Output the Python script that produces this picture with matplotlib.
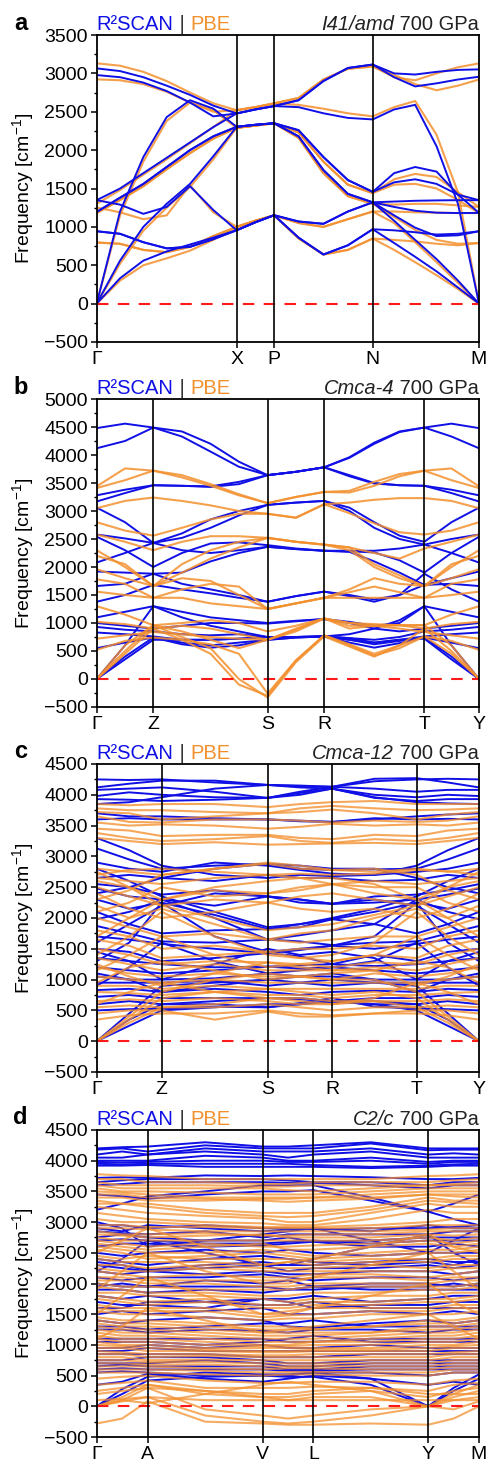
import numpy as np
import matplotlib
matplotlib.use("Agg")
import matplotlib.pyplot as plt
from matplotlib.ticker import MultipleLocator
from matplotlib.offsetbox import TextArea, HPacker, AnchoredOffsetbox

plt.rcParams['font.family'] = ['Liberation Sans', 'DejaVu Sans']
plt.rcParams['mathtext.fontset'] = 'custom'
plt.rcParams['mathtext.rm'] = 'Liberation Sans'
plt.rcParams['mathtext.it'] = 'Liberation Sans:italic'

BLUE = '#1010E6'
ORANGE = '#F3902E'
FS = 14
FS_TITLE = 14.5

# ---------------- panel a : I41/amd ----------------
a_labels = ['Γ', 'X', 'P', 'N', 'M']
a_ticks = [0.0, 0.366, 0.464, 0.722, 1.0]
a_k = [0.0, 0.061, 0.122, 0.183, 0.244, 0.305, 0.366, 0.415, 0.464,
       0.528, 0.593, 0.657, 0.722, 0.778, 0.833, 0.889, 0.945, 1.0]
a_r2scan = [
    [3065, 3030, 2950, 2840, 2720, 2580, 2478, 2530, 2574, 2650, 2900, 3070, 3115, 3000, 2985, 3020, 3045, 3052],
    [2978, 2950, 2880, 2770, 2620, 2440, 2478, 2530, 2574, 2650, 2900, 3070, 3115, 2950, 2830, 2870, 2920, 2956],
    [1348, 1500, 1700, 1900, 2100, 2300, 2478, 2530, 2574, 2560, 2480, 2420, 2400, 2530, 2590, 2050, 1300, 0],
    [0, 1200, 1910, 2430, 2650, 2540, 2304, 2330, 2350, 2260, 1910, 1610, 1456, 1700, 1780, 1720, 1420, 1182],
    [0, 560, 1000, 1300, 1560, 1920, 2304, 2330, 2350, 2260, 1910, 1610, 1456, 1580, 1620, 1560, 1420, 1348],
    [1195, 1380, 1560, 1780, 2000, 2180, 2304, 2330, 2350, 2180, 1740, 1430, 1320, 1330, 1340, 1345, 1348, 1348],
    [1348, 1290, 1170, 1260, 1530, 1220, 956, 1060, 1152, 1070, 1040, 1200, 1320, 1260, 1210, 1185, 1180, 1182],
    [943, 910, 800, 720, 740, 840, 956, 1060, 1152, 1070, 1040, 1200, 1320, 1080, 830, 580, 300, 0],
    [0, 330, 560, 680, 770, 860, 956, 1060, 1152, 860, 640, 760, 969, 790, 610, 420, 210, 0],
    [943, 910, 800, 720, 740, 840, 956, 1060, 1152, 860, 640, 760, 969, 955, 930, 900, 910, 943],
    [1195, 1380, 1560, 1780, 2000, 2180, 2304, 2330, 2350, 2180, 1740, 1430, 1320, 1150, 990, 880, 890, 943],
]
a_pbe = [
    [3131, 3100, 3020, 2900, 2750, 2610, 2520, 2560, 2609, 2680, 2920, 3060, 3090, 2950, 2910, 3000, 3080, 3130],
    [2922, 2910, 2860, 2760, 2620, 2500, 2520, 2560, 2609, 2680, 2920, 3060, 3090, 2980, 2860, 2780, 2840, 2920],
    [1300, 1480, 1680, 1880, 2090, 2300, 2520, 2560, 2609, 2590, 2540, 2480, 2440, 2560, 2640, 2200, 1450, 0],
    [0, 1150, 1850, 2380, 2620, 2520, 2290, 2320, 2350, 2230, 1850, 1550, 1440, 1620, 1690, 1650, 1450, 1260],
    [0, 520, 950, 1250, 1520, 1880, 2290, 2320, 2350, 2230, 1850, 1550, 1440, 1550, 1560, 1500, 1350, 1180],
    [1180, 1350, 1530, 1750, 1960, 2150, 2290, 2320, 2350, 2160, 1700, 1400, 1300, 1290, 1300, 1300, 1280, 1260],
    [1252, 1190, 1100, 1150, 1543, 1190, 1000, 1080, 1150, 1050, 1000, 1100, 1200, 1200, 1190, 1185, 1180, 1180],
    [796, 780, 700, 670, 740, 880, 1000, 1080, 1150, 1050, 1000, 1100, 1200, 1050, 800, 540, 270, 0],
    [0, 300, 500, 590, 690, 830, 1000, 1080, 1150, 850, 640, 700, 848, 700, 540, 370, 190, 0],
    [796, 780, 700, 670, 740, 880, 1000, 1080, 1150, 850, 640, 700, 848, 830, 810, 780, 760, 790],
    [1180, 1350, 1530, 1750, 1960, 2150, 2290, 2320, 2350, 2160, 1700, 1400, 1300, 1130, 960, 830, 780, 790],
]

# ---------------- panel b : Cmca-4 ----------------
b_labels = ['Γ', 'Z', 'S', 'R', 'T', 'Y']
b_ticks = [0.0, 0.148, 0.447, 0.595, 0.857, 1.0]
b_k = [0.0, 0.074, 0.148, 0.223, 0.298, 0.372, 0.447, 0.521, 0.595,
       0.661, 0.726, 0.792, 0.857, 0.928, 1.0]
b_r2scan = [
    [4480, 4560, 4490, 4420, 4200, 3880, 3640, 3700, 3780, 3950, 4200, 4410, 4490, 4560, 4480],
    [4120, 4250, 4490, 4330, 4060, 3790, 3640, 3700, 3780, 3960, 4220, 4420, 4490, 4330, 4120],
    [3280, 3380, 3460, 3450, 3440, 3520, 3640, 3700, 3780, 3640, 3500, 3460, 3450, 3380, 3280],
    [3170, 3320, 3460, 3450, 3430, 3480, 3640, 3700, 3780, 3620, 3490, 3460, 3450, 3320, 3170],
    [3060, 2800, 2430, 2600, 2850, 3000, 3110, 3150, 3180, 3060, 2800, 2560, 2450, 2800, 3060],
    [2580, 2510, 2430, 2520, 2700, 2920, 3110, 3150, 3180, 3000, 2700, 2500, 2400, 2500, 2580],
    [2540, 2300, 2000, 2250, 2420, 2440, 2390, 2330, 2290, 2280, 2260, 2120, 1900, 2250, 2540],
    [2080, 2250, 2430, 2300, 2250, 2300, 2360, 2320, 2290, 2290, 2290, 2330, 2400, 2250, 2080],
    [1920, 1900, 1880, 1900, 2100, 2250, 2360, 2320, 2290, 2270, 2100, 1900, 1680, 1800, 1920],
    [1660, 1700, 1880, 1700, 1600, 1500, 1380, 1480, 1560, 1500, 1420, 1500, 1680, 1700, 1660],
    [1380, 1500, 1680, 1600, 1530, 1450, 1380, 1480, 1560, 1480, 1380, 1500, 1880, 1600, 1380],
    [1100, 1200, 1300, 1200, 1100, 1050, 1000, 1040, 1070, 1020, 950, 1000, 1300, 1200, 1100],
    [1000, 950, 900, 950, 1000, 1000, 990, 1030, 1070, 1000, 900, 850, 900, 950, 1000],
    [930, 880, 850, 800, 780, 800, 750, 750, 760, 730, 700, 750, 850, 880, 930],
    [830, 800, 760, 700, 700, 720, 750, 750, 760, 700, 650, 700, 760, 800, 830],
    [550, 650, 740, 650, 600, 650, 700, 740, 760, 700, 620, 680, 740, 650, 550],
    [0, 400, 740, 620, 560, 600, 700, 740, 760, 650, 560, 640, 740, 400, 0],
    [0, 350, 700, 700, 700, 720, 750, 750, 760, 730, 650, 700, 720, 350, 0],
    [0, 600, 1300, 1100, 950, 850, 750, 750, 760, 800, 900, 1050, 1300, 600, 0],
]
b_pbe = [
    [3440, 3760, 3720, 3600, 3450, 3280, 3140, 3250, 3340, 3330, 3450, 3620, 3720, 3760, 3440],
    [3410, 3550, 3720, 3640, 3480, 3300, 3140, 3250, 3340, 3360, 3520, 3660, 3720, 3550, 3410],
    [3050, 3180, 3240, 3180, 3100, 3000, 2950, 2880, 3120, 3150, 3200, 3230, 3230, 3180, 3050],
    [2800, 2650, 2560, 2700, 2850, 2950, 2950, 2880, 3120, 2960, 2780, 2620, 2580, 2650, 2800],
    [2580, 2450, 2300, 2450, 2550, 2550, 2520, 2450, 2400, 2350, 2250, 2150, 2330, 2450, 2580],
    [2300, 2000, 1660, 2050, 2300, 2450, 2520, 2450, 2400, 2350, 2050, 1850, 1660, 2000, 2300],
    [2200, 2050, 1660, 1900, 2150, 2350, 2520, 2450, 2400, 2300, 2000, 1800, 1660, 2050, 2200],
    [1960, 1800, 1660, 1800, 1750, 1500, 1250, 1350, 1450, 1600, 1800, 1700, 1660, 1800, 1960],
    [1780, 1700, 1450, 1600, 1700, 1650, 1250, 1350, 1450, 1550, 1650, 1550, 1450, 1700, 1780],
    [1560, 1500, 1450, 1450, 1350, 1300, 1250, 1350, 1450, 1450, 1450, 1450, 1450, 1500, 1560],
    [1300, 1150, 960, 1000, 1050, 1000, 850, 950, 1080, 950, 950, 960, 960, 1150, 1300],
    [1020, 980, 900, 950, 900, 800, 700, 900, 1080, 900, 950, 960, 900, 980, 1020],
    [720, 780, 840, 800, 750, 720, 700, 850, 1080, 1000, 950, 900, 840, 780, 720],
    [520, 680, 740, 700, 620, 450, -260, 330, 780, 600, 420, 550, 760, 680, 520],
    [0, 450, 900, 700, 450, -100, -300, 330, 780, 620, 450, 600, 760, 450, 0],
    [0, 500, 960, 750, 550, 0, -330, 300, 760, 580, 400, 600, 900, 500, 0],
    [0, 600, 960, 850, 700, 550, 700, 880, 1080, 1000, 980, 960, 960, 600, 0],
]

# ---------------- panel c : Cmca-12 ----------------
c_labels = ['Γ', 'Z', 'S', 'R', 'T', 'Y']
c_ticks = [0.0, 0.170, 0.447, 0.616, 0.837, 1.0]
c_k = [0.0, 0.085, 0.170, 0.3085, 0.447, 0.5315, 0.616, 0.7265, 0.837, 0.9185, 1.0]
c_r2scan = [
    [4250, 4240, 4250, 4200, 4160, 4150, 4130, 4220, 4250, 4260, 4250],
    [4120, 4180, 4230, 4230, 4160, 4140, 4130, 4260, 4270, 4200, 4120],
    [4080, 4100, 4120, 4050, 3950, 4050, 4130, 4100, 4050, 4080, 4080],
    [3980, 4040, 4000, 3960, 3950, 4000, 4100, 4000, 3960, 4000, 3980],
    [3930, 3920, 3900, 3920, 3950, 4030, 4100, 3950, 3900, 3930, 3930],
    [3850, 3880, 3960, 4100, 4160, 4120, 4100, 3960, 3880, 3860, 3850],
    [3700, 3650, 3650, 3620, 3600, 3580, 3560, 3600, 3650, 3680, 3700],
    [3600, 3620, 3600, 3600, 3600, 3570, 3560, 3620, 3600, 3610, 3600],
    [3130, 2950, 2800, 2850, 2880, 2800, 2780, 2790, 2800, 2950, 3130],
    [2900, 2800, 2750, 2900, 2850, 2780, 2720, 2700, 2750, 2800, 2900],
    [2650, 2700, 2650, 2600, 2700, 2650, 2650, 2600, 2620, 2700, 2650],
    [2550, 2500, 2380, 2450, 2350, 2300, 2230, 2350, 2380, 2450, 2550],
    [2480, 2350, 2300, 2200, 2350, 2250, 2230, 2250, 2300, 2380, 2480],
    [2300, 2150, 2250, 2050, 1820, 1900, 1980, 2100, 2250, 2150, 2300],
    [2100, 1900, 1750, 1800, 1820, 1850, 1980, 1900, 1750, 1900, 2100],
    [1980, 2100, 2300, 2000, 1650, 1720, 1800, 1900, 2300, 2100, 1980],
    [1870, 1750, 1620, 1600, 1650, 1620, 1560, 1600, 1620, 1750, 1870],
    [1700, 1650, 1580, 1500, 1430, 1480, 1550, 1500, 1580, 1650, 1700],
    [1500, 1450, 1300, 1350, 1430, 1380, 1250, 1400, 1300, 1450, 1500],
    [1350, 1300, 1250, 1200, 1210, 1230, 1250, 1220, 1250, 1300, 1350],
    [1200, 1150, 1100, 1150, 1210, 1180, 1200, 1150, 1100, 1150, 1200],
    [1050, 1000, 1000, 1020, 1100, 1050, 1050, 1000, 1000, 1000, 1050],
    [950, 950, 950, 980, 900, 950, 1000, 950, 950, 950, 950],
    [830, 850, 800, 850, 800, 750, 800, 820, 800, 850, 830],
    [720, 750, 700, 700, 700, 680, 650, 700, 700, 750, 720],
    [600, 650, 600, 600, 550, 600, 650, 600, 600, 650, 600],
    [500, 520, 530, 560, 550, 620, 700, 560, 530, 520, 500],
    [0, 350, 600, 650, 700, 700, 650, 650, 600, 350, 0],
    [0, 250, 500, 550, 600, 600, 640, 600, 500, 250, 0],
    [0, 450, 900, 950, 1000, 950, 900, 950, 900, 450, 0],
    [2800, 2600, 2350, 2100, 1850, 1900, 2000, 2150, 2350, 2600, 2800],
    [1600, 1900, 2200, 2400, 2350, 2300, 2230, 2300, 2200, 1900, 1600],
    [1300, 1600, 2250, 1700, 1450, 1500, 1550, 1700, 2250, 1600, 1300],
    [900, 1200, 1600, 1300, 1100, 1150, 1200, 1300, 1600, 1200, 900],
    [1100, 1000, 800, 900, 1000, 1050, 1100, 1000, 800, 1000, 1100],
    [2400, 2500, 2650, 2800, 2880, 2850, 2800, 2800, 2650, 2500, 2400],
    [3300, 3100, 2850, 2700, 2650, 2700, 2680, 2700, 2850, 3100, 3300],
    [1450, 1300, 1000, 1250, 1500, 1400, 1450, 1350, 1000, 1300, 1450],
]
c_pbe = [
    [3850, 3830, 3850, 3850, 3800, 3850, 3880, 3900, 3850, 3850, 3850],
    [3780, 3750, 3750, 3720, 3700, 3780, 3820, 3780, 3750, 3760, 3780],
    [3720, 3700, 3600, 3650, 3700, 3720, 3760, 3700, 3600, 3680, 3720],
    [3650, 3560, 3550, 3600, 3600, 3580, 3550, 3580, 3560, 3580, 3650],
    [3550, 3500, 3520, 3500, 3450, 3480, 3530, 3500, 3520, 3500, 3550],
    [3450, 3420, 3330, 3350, 3350, 3300, 3280, 3350, 3330, 3420, 3450],
    [3380, 3300, 3250, 3280, 3330, 3250, 3220, 3280, 3250, 3300, 3380],
    [3300, 3250, 3200, 3230, 3190, 3200, 3210, 3220, 3200, 3250, 3300],
    [2800, 2750, 2700, 2800, 2880, 2800, 2780, 2750, 2800, 2750, 2800],
    [2700, 2780, 2800, 2750, 2700, 2720, 2700, 2720, 2780, 2760, 2700],
    [2650, 2600, 2550, 2650, 2700, 2650, 2550, 2600, 2550, 2600, 2650],
    [2600, 2500, 2300, 2450, 2400, 2450, 2550, 2400, 2300, 2500, 2600],
    [2500, 2350, 2200, 2300, 2250, 2350, 2400, 2300, 2200, 2350, 2500],
    [2400, 2150, 2000, 2100, 2250, 2150, 2100, 2150, 2000, 2150, 2400],
    [2200, 2000, 2150, 1900, 1650, 1750, 1800, 2000, 2150, 2000, 2200],
    [2000, 1850, 1700, 1750, 1650, 1600, 1650, 1700, 1700, 1850, 2000],
    [1800, 1700, 1500, 1550, 1450, 1500, 1500, 1550, 1500, 1700, 1800],
    [1650, 1550, 1350, 1400, 1450, 1350, 1300, 1400, 1350, 1550, 1650],
    [1500, 1400, 1250, 1300, 1280, 1250, 1200, 1280, 1250, 1400, 1500],
    [1350, 1250, 1150, 1250, 1150, 1150, 1150, 1200, 1150, 1250, 1350],
    [1200, 1100, 1050, 1100, 1050, 1050, 1000, 1100, 1050, 1100, 1200],
    [1050, 1000, 950, 1000, 950, 950, 950, 950, 950, 1000, 1050],
    [900, 900, 850, 900, 850, 850, 850, 850, 850, 900, 900],
    [800, 780, 750, 800, 750, 750, 700, 750, 750, 780, 800],
    [650, 680, 650, 700, 650, 600, 600, 650, 650, 680, 650],
    [550, 580, 550, 550, 600, 550, 500, 550, 550, 580, 550],
    [450, 500, 500, 350, 480, 400, 400, 450, 500, 500, 450],
    [350, 420, 450, 450, 500, 450, 420, 450, 450, 420, 350],
    [0, 300, 550, 600, 700, 700, 650, 650, 550, 300, 0],
    [0, 350, 700, 800, 850, 800, 750, 800, 700, 350, 0],
    [0, 400, 800, 1000, 1100, 1050, 1000, 1000, 800, 400, 0],
    [2750, 2500, 2200, 2000, 1800, 1850, 1900, 2050, 2200, 2500, 2750],
    [1700, 2000, 2300, 2500, 2600, 2650, 2650, 2550, 2300, 2000, 1700],
    [1400, 1700, 2100, 1700, 1400, 1350, 1400, 1600, 2100, 1700, 1400],
    [1150, 1400, 1700, 1400, 1200, 1250, 1300, 1400, 1700, 1400, 1150],
    [950, 1200, 1300, 1150, 1000, 1050, 1100, 1150, 1300, 1200, 950],
    [2300, 2450, 2700, 2800, 2900, 2850, 2780, 2800, 2700, 2450, 2300],
    [600, 800, 950, 800, 700, 650, 600, 700, 950, 800, 600],
    [1250, 1050, 900, 1100, 1280, 1200, 1150, 1150, 900, 1050, 1250],
    [2100, 2250, 2500, 2350, 2400, 2500, 2550, 2500, 2500, 2250, 2100],
]

# ---------------- panel d : C2/c ----------------
d_labels = ['Γ', 'A', 'V', 'L', 'Y', 'M']
d_ticks = [0.0, 0.133, 0.434, 0.567, 0.867, 1.0]
d_k = [0.0, 0.0665, 0.133, 0.2835, 0.434, 0.5005, 0.567, 0.717, 0.867, 0.9335, 1.0]
d_r2scan = [
    [4200, 4220, 4230, 4300, 4230, 4230, 4250, 4300, 4200, 4200, 4200],
    [4180, 4200, 4150, 4250, 4200, 4200, 4200, 4280, 4170, 4180, 4180],
    [4100, 4150, 4100, 4200, 4150, 4150, 4150, 4200, 4100, 4120, 4100],
    [4050, 4050, 4100, 4150, 4100, 4050, 4100, 4150, 4050, 4050, 4050],
    [4000, 4000, 4000, 4080, 4050, 4000, 4000, 4050, 3980, 4000, 4000],
    [3980, 3970, 3980, 4000, 4000, 3980, 3980, 4000, 3950, 3980, 3980],
    [3950, 3940, 3950, 3950, 3950, 3950, 3930, 3900, 3920, 3940, 3950],
    [3920, 3920, 3930, 3900, 3900, 3900, 3900, 3880, 3900, 3920, 3920],
    [3720, 3730, 3720, 3760, 3750, 3760, 3750, 3730, 3700, 3700, 3720],
    [3650, 3680, 3700, 3700, 3700, 3680, 3650, 3650, 3600, 3650, 3650],
    [3600, 3620, 3650, 3650, 3650, 3640, 3640, 3600, 3550, 3600, 3600],
    [3200, 3300, 3420, 3500, 3600, 3600, 3600, 3400, 3170, 3300, 3450],
    [3450, 3420, 3380, 3450, 3500, 3500, 3520, 3350, 3170, 3050, 2950],
    [2950, 2950, 2900, 2950, 2900, 2900, 2880, 2900, 2900, 2920, 2950],
    [2850, 2820, 2800, 2850, 2750, 2800, 2800, 2800, 2800, 2850, 2850],
    [2700, 2720, 2700, 2650, 2650, 2680, 2700, 2650, 2700, 2700, 2700],
    [2600, 2650, 2650, 2600, 2620, 2650, 2680, 2600, 2600, 2650, 2600],
    [2500, 2450, 2500, 2550, 2500, 2550, 2500, 2450, 2500, 2500, 2500],
    [2350, 2300, 2220, 2300, 2350, 2300, 2300, 2350, 2400, 2350, 2350],
    [2200, 2150, 2200, 2150, 2200, 2150, 2150, 2200, 2200, 2150, 2200],
    [2000, 1950, 1950, 2050, 2000, 2050, 1950, 2000, 2000, 1950, 2000],
    [1900, 1900, 1850, 1900, 1850, 1900, 1950, 1900, 1900, 1900, 1900],
    [1800, 1750, 1800, 1700, 1750, 1750, 1800, 1700, 1750, 1800, 1800],
    [1700, 1650, 1650, 1600, 1750, 1700, 1600, 1650, 1650, 1700, 1700],
    [1500, 1550, 1500, 1550, 1600, 1500, 1500, 1550, 1500, 1550, 1500],
    [1400, 1350, 1400, 1450, 1400, 1300, 1280, 1350, 1400, 1350, 1400],
    [1250, 1250, 1200, 1250, 1230, 1200, 1250, 1250, 1200, 1250, 1250],
    [1100, 1100, 1100, 1100, 1100, 1050, 1050, 1100, 1100, 1100, 1100],
    [950, 950, 1000, 950, 1000, 950, 950, 1000, 950, 950, 950],
    [850, 850, 850, 850, 800, 800, 800, 850, 850, 850, 850],
    [700, 700, 700, 750, 700, 650, 650, 700, 700, 700, 700],
    [650, 680, 650, 650, 650, 600, 600, 650, 650, 650, 650],
    [550, 570, 550, 500, 500, 500, 550, 550, 500, 550, 550],
    [350, 400, 530, 450, 400, 450, 500, 450, 350, 400, 350],
    [0, 280, 480, 550, 520, 520, 550, 450, 0, 300, 520],
    [0, 200, 420, 480, 500, 480, 480, 350, 0, 250, 450],
    [2900, 2850, 2950, 2900, 2850, 2880, 2900, 2850, 2950, 2900, 2900],
    [2750, 2800, 2750, 2700, 2700, 2750, 2680, 2700, 2750, 2750, 2750],
    [2400, 2350, 2300, 2400, 2450, 2400, 2350, 2300, 2350, 2300, 2400],
    [2300, 2250, 2200, 2250, 2300, 2200, 2250, 2250, 2300, 2250, 2300],
    [2100, 2050, 2100, 2100, 2150, 2100, 2050, 2100, 2100, 2050, 2100],
    [1950, 2000, 1950, 1950, 1950, 1900, 1900, 1950, 1950, 2000, 1950],
    [1600, 1600, 1700, 1700, 1650, 1650, 1700, 1600, 1600, 1600, 1600],
    [1300, 1300, 1250, 1300, 1350, 1350, 1400, 1300, 1300, 1300, 1300],
    [1050, 1050, 1050, 1000, 1050, 1100, 1150, 1050, 1050, 1050, 1050],
    [900, 900, 950, 900, 900, 900, 900, 900, 900, 900, 900],
    [750, 750, 800, 800, 750, 700, 700, 750, 750, 750, 750],
    [600, 620, 600, 600, 600, 580, 580, 600, 600, 600, 600],
    [3000, 2900, 2600, 2700, 2800, 2850, 2900, 2700, 2500, 2700, 2900],
    [2200, 2400, 2700, 2500, 2300, 2300, 2400, 2600, 2800, 2500, 2300],
]
d_pbe = [
    [3780, 3760, 3750, 3700, 3700, 3700, 3700, 3700, 3750, 3760, 3780],
    [3700, 3700, 3650, 3650, 3620, 3620, 3650, 3650, 3650, 3680, 3700],
    [3600, 3550, 3550, 3550, 3550, 3520, 3500, 3550, 3600, 3600, 3600],
    [3500, 3480, 3450, 3400, 3400, 3400, 3400, 3450, 3500, 3500, 3500],
    [3400, 3400, 3350, 3350, 3380, 3380, 3400, 3400, 3450, 3420, 3400],
    [3300, 3300, 3250, 3150, 3100, 3080, 3100, 3200, 3350, 3320, 3300],
    [3250, 3200, 3150, 3100, 3060, 3000, 3000, 3150, 3300, 3250, 3250],
    [3150, 3100, 3050, 3000, 2980, 2950, 2950, 3050, 3200, 3150, 3150],
    [3050, 3000, 3000, 2950, 2920, 2920, 2920, 2950, 3000, 3050, 3050],
    [2900, 2900, 2880, 2850, 2850, 2850, 2850, 2850, 2880, 2900, 2900],
    [2800, 2780, 2750, 2780, 2800, 2750, 2750, 2750, 2800, 2780, 2800],
    [2700, 2650, 2600, 2650, 2600, 2600, 2620, 2650, 2700, 2650, 2700],
    [2600, 2550, 2500, 2500, 2550, 2500, 2450, 2500, 2550, 2550, 2600],
    [2450, 2400, 2450, 2400, 2400, 2400, 2350, 2400, 2400, 2450, 2450],
    [2300, 2300, 2250, 2300, 2250, 2250, 2250, 2300, 2250, 2300, 2300],
    [2200, 2150, 2100, 2150, 2100, 2100, 2150, 2150, 2100, 2150, 2200],
    [2050, 2050, 2000, 2000, 1950, 1950, 2000, 2000, 2000, 2050, 2050],
    [1950, 1900, 1850, 1850, 1800, 1800, 1850, 1850, 1900, 1900, 1950],
    [1800, 1750, 1700, 1750, 1650, 1650, 1700, 1700, 1750, 1750, 1800],
    [1650, 1600, 1600, 1600, 1500, 1550, 1600, 1600, 1600, 1650, 1650],
    [1550, 1500, 1500, 1450, 1400, 1430, 1430, 1500, 1500, 1500, 1550],
    [1450, 1400, 1400, 1350, 1300, 1300, 1250, 1300, 1400, 1400, 1450],
    [1350, 1300, 1300, 1250, 1200, 1200, 1200, 1200, 1300, 1300, 1350],
    [1250, 1200, 1200, 1150, 1100, 1100, 1100, 1150, 1200, 1200, 1250],
    [1150, 1100, 1100, 1050, 1000, 1000, 1050, 1050, 1100, 1100, 1150],
    [1050, 1000, 1000, 950, 950, 950, 950, 950, 1000, 1000, 1050],
    [950, 950, 900, 900, 880, 880, 900, 900, 900, 950, 950],
    [850, 850, 800, 820, 800, 800, 800, 800, 800, 850, 850],
    [750, 750, 720, 720, 700, 700, 700, 700, 700, 750, 750],
    [650, 650, 650, 620, 600, 620, 620, 600, 600, 650, 650],
    [550, 550, 550, 520, 500, 520, 520, 500, 500, 550, 550],
    [450, 480, 500, 420, 380, 380, 400, 400, 350, 420, 450],
    [350, 380, 420, 300, 300, 300, 320, 300, 250, 350, 380],
    [250, 300, 350, 200, 150, 150, 200, 250, 150, 250, 300],
    [0, 150, 350, 250, 150, 100, 150, 150, 0, 150, 250],
    [0, 100, 300, -50, -150, -200, -150, -50, 0, 100, 150],
    [0, 80, 150, -150, -250, -280, -250, -150, 0, -50, 80],
    [-280, -200, 80, -250, -280, -300, -300, -280, -300, -200, 0],
    [100, 120, 150, 100, 100, 100, 100, 100, 100, 100, 100],
    [3650, 3600, 3600, 3600, 3580, 3580, 3600, 3600, 3600, 3620, 3650],
    [3550, 3500, 3500, 3480, 3450, 3450, 3450, 3500, 3550, 3550, 3550],
    [3450, 3450, 3400, 3380, 3350, 3330, 3350, 3380, 3450, 3450, 3450],
    [3350, 3300, 3300, 3200, 3150, 3150, 3150, 3250, 3400, 3350, 3350],
    [2950, 2950, 2920, 2920, 2900, 2900, 2900, 2900, 2950, 2950, 2950],
    [2850, 2800, 2800, 2820, 2780, 2780, 2800, 2800, 2850, 2850, 2850],
    [2750, 2700, 2700, 2700, 2700, 2700, 2700, 2700, 2750, 2700, 2750],
    [2650, 2600, 2550, 2600, 2650, 2550, 2550, 2600, 2650, 2600, 2650],
    [2550, 2500, 2400, 2450, 2500, 2450, 2400, 2450, 2500, 2500, 2550],
    [2400, 2350, 2350, 2350, 2300, 2350, 2300, 2350, 2350, 2400, 2400],
    [2250, 2200, 2200, 2250, 2200, 2200, 2200, 2200, 2200, 2250, 2250],
    [2100, 2100, 2050, 2050, 2050, 2050, 2100, 2100, 2050, 2100, 2100],
    [2000, 1950, 1950, 1900, 1900, 1900, 1950, 1950, 1950, 1950, 2000],
    [1850, 1850, 1800, 1800, 1750, 1700, 1750, 1800, 1800, 1850, 1850],
    [1750, 1700, 1650, 1700, 1600, 1600, 1650, 1650, 1700, 1700, 1750],
    [1600, 1550, 1550, 1550, 1450, 1480, 1500, 1550, 1550, 1600, 1600],
    [1400, 1350, 1350, 1300, 1250, 1250, 1250, 1300, 1350, 1350, 1400],
    [1300, 1250, 1250, 1200, 1150, 1150, 1150, 1200, 1250, 1250, 1300],
    [1200, 1150, 1150, 1100, 1050, 1050, 1050, 1100, 1150, 1150, 1200],
    [1100, 1050, 1050, 1000, 980, 980, 1000, 1000, 1050, 1050, 1100],
    [1000, 980, 950, 920, 900, 900, 920, 920, 950, 980, 1000],
    [900, 880, 850, 850, 830, 830, 850, 850, 850, 880, 900],
    [800, 800, 750, 760, 750, 750, 750, 750, 750, 800, 800],
    [700, 700, 680, 680, 650, 650, 660, 650, 650, 700, 700],
    [600, 600, 600, 580, 550, 560, 560, 550, 550, 600, 600],
    [2500, 2700, 2900, 2600, 2300, 2350, 2400, 2600, 2800, 2600, 2500],
    [1900, 2200, 2500, 2200, 2000, 2000, 2100, 2300, 2500, 2200, 1900],
    [1500, 1800, 2100, 1800, 1500, 1500, 1600, 1800, 2000, 1700, 1500],
    [1100, 1300, 1600, 1400, 1200, 1250, 1300, 1400, 1500, 1300, 1100],
    [200, 250, 300, 250, 200, 200, 250, 300, 200, 200, 200],
    [0, 100, 50, 200, 350, 400, 350, 250, 0, 200, 350],
]

panels = [
    dict(letter='a', phase='I41/amd', k=a_k, ticks=a_ticks, labels=a_labels,
         r2=a_r2scan, pbe=a_pbe, ylim=(-500, 3500), pbe_top=False, alpha=0.85,
         rect=(35, 342)),
    dict(letter='b', phase='Cmca-4', k=b_k, ticks=b_ticks, labels=b_labels,
         r2=b_r2scan, pbe=b_pbe, ylim=(-500, 5000), pbe_top=True, alpha=0.85,
         rect=(399, 707)),
    dict(letter='c', phase='Cmca-12', k=c_k, ticks=c_ticks, labels=c_labels,
         r2=c_r2scan, pbe=c_pbe, ylim=(-500, 4500), pbe_top=True, alpha=0.78,
         rect=(764, 1072)),
    dict(letter='d', phase='C2/c', k=d_k, ticks=d_ticks, labels=d_labels,
         r2=d_r2scan, pbe=d_pbe, ylim=(-500, 4500), pbe_top=True, alpha=0.75,
         rect=(1130, 1437)),
]

W, H = 488, 1462
fig = plt.figure(figsize=(W / 100, H / 100), dpi=100)
left_px, right_px = 96.7, 479.0

for p in panels:
    top, bot = p['rect']
    ax = fig.add_axes([left_px / W, 1 - bot / H, (right_px - left_px) / W, (bot - top) / H])
    for name in ('r2', 'pbe'):
        for band in p[name]:
            if len(band) != len(p['k']):
                raise ValueError(f"panel {p['letter']} {name} band length {len(band)}")
    zb, zo = (2, 3) if p['pbe_top'] else (3, 2)
    for band in p['r2']:
        ax.plot(p['k'], band, color=BLUE, lw=1.4, zorder=zb, solid_joinstyle='round')
    for band in p['pbe']:
        ax.plot(p['k'], band, color=ORANGE, lw=1.5, alpha=p['alpha'], zorder=zo,
                solid_joinstyle='round')
    ax.axhline(0, color='#FF1A1A', lw=1.5, ls=(0, (5.5, 4.5)), zorder=5)
    for t in p['ticks'][1:-1]:
        ax.axvline(t, color='black', lw=1.2, zorder=6)
    ax.set_xlim(0, 1)
    ax.set_ylim(*p['ylim'])
    ax.set_xticks(p['ticks'])
    ax.set_xticklabels(p['labels'])
    ax.yaxis.set_major_locator(MultipleLocator(500))
    ax.yaxis.set_minor_locator(MultipleLocator(250))
    ax.tick_params(which='major', direction='out', length=4.5, width=1.1,
                   labelsize=FS, pad=2, colors='black')
    ax.tick_params(which='minor', direction='out', length=2.5, width=1.0)
    ax.tick_params(axis='x', which='minor', bottom=False)
    for s in ax.spines.values():
        s.set_linewidth(1.3)
        s.set_zorder(7)
    ax.set_ylabel('Frequency [cm$^{-1}$]', fontsize=FS)
    ax.yaxis.set_label_coords(-0.158, 0.5)

    parts = [TextArea('R²SCAN', textprops=dict(color=BLUE, fontsize=FS_TITLE)),
             TextArea(' | ', textprops=dict(color='#333333', fontsize=FS_TITLE)),
             TextArea('PBE', textprops=dict(color=ORANGE, fontsize=FS_TITLE))]
    box = HPacker(children=parts, align='baseline', pad=0, sep=0)
    ab = AnchoredOffsetbox(loc='lower left', child=box, pad=0, borderpad=0,
                           frameon=False, bbox_to_anchor=(0.0, 1.003),
                           bbox_transform=ax.transAxes)
    ax.add_artist(ab)
    parts = [TextArea(p['phase'], textprops=dict(color='#222222', fontsize=FS_TITLE, style='italic')),
             TextArea(' 700 GPa', textprops=dict(color='#222222', fontsize=FS_TITLE))]
    box = HPacker(children=parts, align='baseline', pad=0, sep=0)
    ab = AnchoredOffsetbox(loc='lower right', child=box, pad=0, borderpad=0,
                           frameon=False, bbox_to_anchor=(1.0, 1.003),
                           bbox_transform=ax.transAxes)
    ax.add_artist(ab)
    fig.text(20.5 / W, 1 - (top - 12) / H, p['letter'], fontsize=FS + 3,
             fontweight='bold', ha='center', va='center')

fig.savefig('out.png', dpi=100)
